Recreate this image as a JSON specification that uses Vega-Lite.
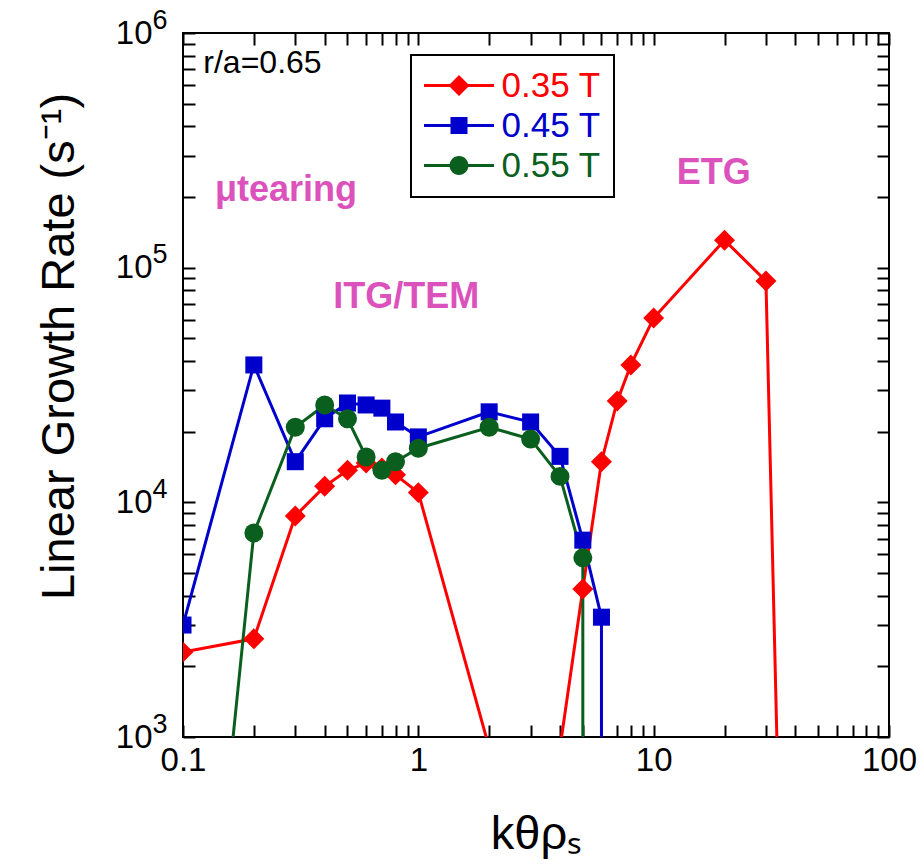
{
  "$schema": "https://vega.github.io/schema/vega-lite/v6.json",
  "width": 706,
  "height": 704,
  "autosize": "none",
  "padding": {"left": 183, "top": 33, "right": 35, "bottom": 130},
  "config": {
    "font": "Liberation Sans",
    "view": {"stroke": "black", "strokeWidth": 2},
    "axis": {"grid": false, "domain": false, "tickColor": "black", "tickWidth": 2, "labelColor": "black", "labelFontSize": 33, "titleFontWeight": "normal", "titleColor": "black", "labelFont": "Liberation Sans", "titleFont": "Liberation Sans"},
    "legend": {
      "orient": "none", "legendX": 228, "legendY": 22,
      "strokeColor": "black", "fillColor": "white",
      "padding": 13, "cornerRadius": 0,
      "symbolSize": 1225, "symbolOffset": 17.5, "symbolStrokeWidth": 0,
      "labelOffset": 25, "labelFontSize": 35, "labelFont": "Liberation Sans",
      "rowPadding": 4
    }
  },
  "datasets": {
    "series": [
      {"series": "0.35 T", "i": 1, "k": 0.1, "rate": 2300},
      {"series": "0.35 T", "i": 2, "k": 0.2, "rate": 2620},
      {"series": "0.35 T", "i": 3, "k": 0.3, "rate": 8750},
      {"series": "0.35 T", "i": 4, "k": 0.4, "rate": 11700},
      {"series": "0.35 T", "i": 5, "k": 0.5, "rate": 13700},
      {"series": "0.35 T", "i": 6, "k": 0.6, "rate": 14700},
      {"series": "0.35 T", "i": 7, "k": 0.7, "rate": 14000},
      {"series": "0.35 T", "i": 8, "k": 0.8, "rate": 13100},
      {"series": "0.35 T", "i": 9, "k": 1, "rate": 11000},
      {"series": "0.35 T", "i": 10, "k": 2, "rate": 900},
      {"series": "0.35 T", "i": 11, "k": 3, "rate": 100},
      {"series": "0.35 T", "i": 12, "k": 4, "rate": 900},
      {"series": "0.35 T", "i": 13, "k": 5, "rate": 4270},
      {"series": "0.35 T", "i": 14, "k": 6, "rate": 14900},
      {"series": "0.35 T", "i": 15, "k": 7, "rate": 27000},
      {"series": "0.35 T", "i": 16, "k": 8, "rate": 38500},
      {"series": "0.35 T", "i": 17, "k": 10, "rate": 61000},
      {"series": "0.35 T", "i": 18, "k": 20, "rate": 131000},
      {"series": "0.35 T", "i": 19, "k": 30, "rate": 87700},
      {"series": "0.35 T", "i": 20, "k": 40, "rate": 0.5},
      {"series": "0.45 T", "i": 1, "k": 0.1, "rate": 3000},
      {"series": "0.45 T", "i": 2, "k": 0.2, "rate": 38500},
      {"series": "0.45 T", "i": 3, "k": 0.3, "rate": 14900},
      {"series": "0.45 T", "i": 4, "k": 0.4, "rate": 22700},
      {"series": "0.45 T", "i": 5, "k": 0.5, "rate": 26500},
      {"series": "0.45 T", "i": 6, "k": 0.6, "rate": 26000},
      {"series": "0.45 T", "i": 7, "k": 0.7, "rate": 25200},
      {"series": "0.45 T", "i": 8, "k": 0.8, "rate": 22000},
      {"series": "0.45 T", "i": 9, "k": 1, "rate": 19000},
      {"series": "0.45 T", "i": 10, "k": 2, "rate": 24300},
      {"series": "0.45 T", "i": 11, "k": 3, "rate": 22000},
      {"series": "0.45 T", "i": 12, "k": 4, "rate": 15700},
      {"series": "0.45 T", "i": 13, "k": 5, "rate": 6900},
      {"series": "0.45 T", "i": 14, "k": 6, "rate": 3240},
      {"series": "0.45 T", "i": 15, "k": 6, "rate": 1},
      {"series": "0.55 T", "i": 1, "k": 0.1, "rate": 8},
      {"series": "0.55 T", "i": 2, "k": 0.2, "rate": 7400},
      {"series": "0.55 T", "i": 3, "k": 0.3, "rate": 20900},
      {"series": "0.55 T", "i": 4, "k": 0.4, "rate": 26000},
      {"series": "0.55 T", "i": 5, "k": 0.5, "rate": 22700},
      {"series": "0.55 T", "i": 6, "k": 0.6, "rate": 15600},
      {"series": "0.55 T", "i": 7, "k": 0.7, "rate": 13700},
      {"series": "0.55 T", "i": 8, "k": 0.8, "rate": 14900},
      {"series": "0.55 T", "i": 9, "k": 1, "rate": 17000},
      {"series": "0.55 T", "i": 10, "k": 2, "rate": 20900},
      {"series": "0.55 T", "i": 11, "k": 3, "rate": 18600},
      {"series": "0.55 T", "i": 12, "k": 4, "rate": 12900},
      {"series": "0.55 T", "i": 13, "k": 5, "rate": 5800},
      {"series": "0.55 T", "i": 14, "k": 5, "rate": 1}
    ],
    "notes": [
      {"k": 0.122, "rate": 745000, "label": "r/a=0.65"}
    ],
    "regions": [
      {"k": 0.274, "rate": 214000, "label": "μtearing"},
      {"k": 0.889, "rate": 75000, "label": "ITG/TEM"},
      {"k": 18.0, "rate": 253000, "label": "ETG"}
    ]
  },
  "resolve": {"axis": {"x": "independent", "y": "independent"}},
  "layer": [
    {
      "data": {"name": "series"},
      "mark": {"type": "line", "strokeWidth": 3, "clip": true},
      "encoding": {
        "x": {
          "field": "k", "type": "quantitative",
          "scale": {"type": "log", "domain": [0.1, 100]},
          "axis": {
            "orient": "bottom",
            "values": [0.1,0.2,0.3,0.4,0.5,0.6,0.7,0.8,0.9,1,2,3,4,5,6,7,8,9,10,20,30,40,50,60,70,80,90,100],
            "labelExpr": "datum.value == 0.1 ? '0.1' : datum.value == 1 ? '1' : datum.value == 10 ? '10' : datum.value == 100 ? '100' : ''",
            "tickSize": -12, "labelPadding": 19, "labelFlush": false, "labelOverlap": false,
            "title": "kθρₛ", "titleFontSize": 47, "titlePadding": 34,
            "encode": {"ticks": {"update": {"y2": {"signal": "(datum.value == 0.1 || datum.value == 1 || datum.value == 10 || datum.value == 100) ? -12 : -7"}}}}
          }
        },
        "y": {
          "field": "rate", "type": "quantitative",
          "scale": {"type": "log", "domain": [1000, 1000000]},
          "axis": {
            "orient": "left",
            "values": [1000,2000,3000,4000,5000,6000,7000,8000,9000,10000,20000,30000,40000,50000,60000,70000,80000,90000,100000,200000,300000,400000,500000,600000,700000,800000,900000,1000000],
            "labelExpr": "datum.value == 1000 ? '10' : datum.value == 10000 ? '10' : datum.value == 100000 ? '10' : datum.value == 1000000 ? '10' : ''",
            "tickSize": -12, "labelPadding": 43, "labelFlush": false, "labelOverlap": false,
            "title": "Linear Growth Rate (s⁻¹)", "titleFontSize": 47, "titlePadding": 32, "titleY": 313,
            "encode": {"ticks": {"update": {"x2": {"signal": "(datum.value == 1000 || datum.value == 10000 || datum.value == 100000 || datum.value == 1000000) ? 12 : 7"}}}}
          }
        },
        "color": {"field": "series", "type": "nominal", "scale": {"domain": ["0.35 T", "0.45 T", "0.55 T"], "range": ["#ff0000", "#0000cc", "#0a5f1e"]},
          "legend": {
            "title": null,
            "encode": {
              "legend": {"update": {"strokeWidth": {"value": 2}}},
              "symbols": {"update": {
                "size": {"value": 1225},
                "strokeWidth": {"value": 0},
                "fill": {"signal": "datum.value == '0.35 T' ? '#ff0000' : datum.value == '0.45 T' ? '#0000cc' : '#0a5f1e'"},
                "shape": {"signal": "datum.value == '0.35 T' ? 'M-2,-0.086H2V0.086H-2Z M0,-0.6L0.6,0L0,0.6L-0.6,0Z' : datum.value == '0.45 T' ? 'M-2,-0.086H2V0.086H-2Z M-0.486,-0.486H0.486V0.486H-0.486Z' : 'M-2,-0.086H2V0.086H-2Z M-0.54,0A0.54,0.54 0 1,1 0.54,0A0.54,0.54 0 1,1 -0.54,0Z'"}
              }},
              "labels": {"update": {
                "fill": {"signal": "datum.value == '0.35 T' ? '#ff0000' : datum.value == '0.45 T' ? '#0000cc' : '#0a5f1e'"}
              }}
            }
          }
        },
        "order": {"field": "i", "type": "quantitative"}
      }
    },
    {
      "data": {"name": "series"},
      "transform": [{"filter": "datum.series == '0.35 T'"}],
      "mark": {"type": "point", "filled": true, "opacity": 1, "clip": true, "shape": "diamond", "size": 440},
      "encoding": {
        "x": {
          "field": "k", "type": "quantitative",
          "axis": {
            "orient": "top",
            "values": [0.1,0.2,0.3,0.4,0.5,0.6,0.7,0.8,0.9,1,2,3,4,5,6,7,8,9,10,20,30,40,50,60,70,80,90,100],
            "labels": false, "title": null, "tickSize": -12,
            "encode": {"ticks": {"update": {"y2": {"signal": "(datum.value == 0.1 || datum.value == 1 || datum.value == 10 || datum.value == 100) ? 12 : 7"}}}}
          }
        },
        "y": {
          "field": "rate", "type": "quantitative",
          "axis": {
            "orient": "right",
            "values": [1000,2000,3000,4000,5000,6000,7000,8000,9000,10000,20000,30000,40000,50000,60000,70000,80000,90000,100000,200000,300000,400000,500000,600000,700000,800000,900000,1000000],
            "labels": false, "title": null, "tickSize": -12,
            "encode": {"ticks": {"update": {"x2": {"signal": "(datum.value == 1000 || datum.value == 10000 || datum.value == 100000 || datum.value == 1000000) ? -12 : -7"}}}}
          }
        },
        "color": {"field": "series", "type": "nominal"}
      }
    },
    {
      "data": {"name": "series"},
      "transform": [{"filter": "datum.series == '0.45 T'"}],
      "mark": {"type": "point", "filled": true, "opacity": 1, "clip": true, "shape": "square", "size": 290},
      "encoding": {
        "x": {"field": "k", "type": "quantitative", "axis": null},
        "y": {"field": "rate", "type": "quantitative", "axis": null},
        "color": {"field": "series", "type": "nominal"}
      }
    },
    {
      "data": {"name": "series"},
      "transform": [{"filter": "datum.series == '0.55 T'"}],
      "mark": {"type": "point", "filled": true, "opacity": 1, "clip": true, "shape": "circle", "size": 360},
      "encoding": {
        "x": {"field": "k", "type": "quantitative", "axis": null},
        "y": {"field": "rate", "type": "quantitative", "axis": null},
        "color": {"field": "series", "type": "nominal"}
      }
    },
    {
      "data": {"name": "notes"},
      "mark": {"type": "text", "align": "left", "baseline": "middle", "fontSize": 32, "color": "black"},
      "encoding": {
        "x": {"field": "k", "type": "quantitative", "axis": null},
        "y": {"field": "rate", "type": "quantitative",
          "axis": {
            "orient": "left", "values": [1000, 10000, 100000, 1000000],
            "labelExpr": "datum.value == 1000 ? '3' : datum.value == 10000 ? '4' : datum.value == 100000 ? '5' : '6'",
            "ticks": false, "labelFontSize": 27, "labelPadding": 16, "labelOffset": -13, "labelFlush": false, "labelOverlap": false, "title": null
          }
        },
        "text": {"field": "label"}
      }
    },
    {
      "data": {"name": "regions"},
      "mark": {"type": "text", "align": "center", "baseline": "middle", "fontSize": 36, "fontWeight": "bold", "color": "#dc52bc"},
      "encoding": {
        "x": {"field": "k", "type": "quantitative", "axis": null},
        "y": {"field": "rate", "type": "quantitative", "axis": null},
        "text": {"field": "label"}
      }
    }
  ]
}
